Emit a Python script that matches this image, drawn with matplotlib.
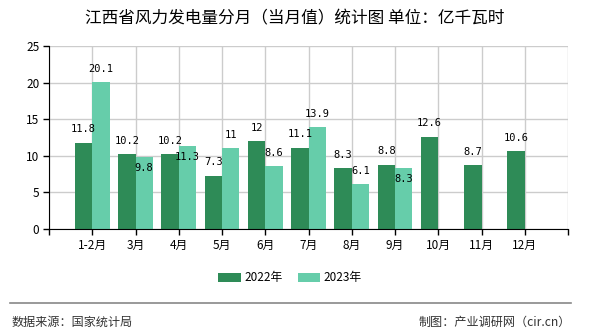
import matplotlib.pyplot as plt
import numpy as np

plt.rcParams['font.family'] = ['Noto Sans CJK SC', 'DejaVu Sans']

months = ['1-2月', '3月', '4月', '5月', '6月', '7月', '8月', '9月', '10月', '11月', '12月']
v2022 = [11.8, 10.2, 10.2, 7.3, 12, 11.1, 8.3, 8.8, 12.6, 8.7, 10.6]
v2023 = [20.1, 9.8, 11.3, 11, 8.6, 13.9, 6.1, 8.3]
yticks = [0, 5, 10, 15, 20, 25]

c22 = '#2E8B57'
c23 = '#66CDAA'

fig = plt.figure(figsize=(5.9, 3.3), dpi=100)
ax = fig.add_axes([49 / 590, 1 - 229 / 330, 519 / 590, 183 / 330])

x = np.arange(1, len(months) + 1)
w = 0.4
ax.bar(x[:len(v2022)] - w / 2, v2022, w, color=c22, label='2022年', zorder=3)
ax.bar(x[:len(v2023)] + w / 2, v2023, w, color=c23, label='2023年', zorder=3)

def fmt(v):
    return f'{v:g}'

for i, v in enumerate(v2022):
    ax.annotate(fmt(v), (x[i] - w / 2, v), xytext=(0, 6), textcoords='offset points',
                ha='center', va='bottom', fontsize=7.5, family='DejaVu Sans Mono', zorder=4)
for i, v in enumerate(v2023):
    # shift the label under the bar top when it would clash with the 2022 label
    if abs(v - v2022[i]) < 1.5:
        off, va = -4, 'top'
    else:
        off, va = 6, 'bottom'
    ax.annotate(fmt(v), (x[i] + w / 2, v), xytext=(0, off), textcoords='offset points',
                ha='center', va=va, fontsize=7.5, family='DejaVu Sans Mono', zorder=4)

ax.set_xlim(0, len(months) + 1)
ax.set_ylim(0, 25)
ax.set_yticks(yticks)
ax.set_xticks(np.arange(0, len(months) + 2))
ax.set_xticklabels([''] + months + [''])
ax.tick_params(axis='both', labelsize=8.5, length=4, width=1, color='black', pad=3)
ax.grid(True, color='#cccccc', linewidth=1, zorder=0)
for s in ['top', 'right']:
    ax.spines[s].set_visible(False)
for s in ['left', 'bottom']:
    ax.spines[s].set_color('black')
    ax.spines[s].set_zorder(5)

fig.text(0.5, 1 - 19 / 330, '江西省风力发电量分月（当月值）统计图 单位：亿千瓦时',
         ha='center', va='center', fontsize=12)

fig.legend(loc='center', bbox_to_anchor=(290 / 590, 1 - 278 / 330), ncol=2, frameon=False,
           fontsize=8.5, handlelength=1.9, handleheight=0.75, columnspacing=1.3, handletextpad=0.3)

fig.add_artist(plt.Line2D([10 / 590, 571 / 590], [1 - 303 / 330] * 2, color='#888888', linewidth=1.2))
fig.text(12 / 590, 1 - 322 / 330, '数据来源：国家统计局', ha='left', va='center', fontsize=8.7, color='#333333')
fig.text(571 / 590, 1 - 322 / 330, '制图：产业调研网（cir.cn）', ha='right', va='center', fontsize=8.7, color='#333333')

fig.savefig('out.png', dpi=100)
